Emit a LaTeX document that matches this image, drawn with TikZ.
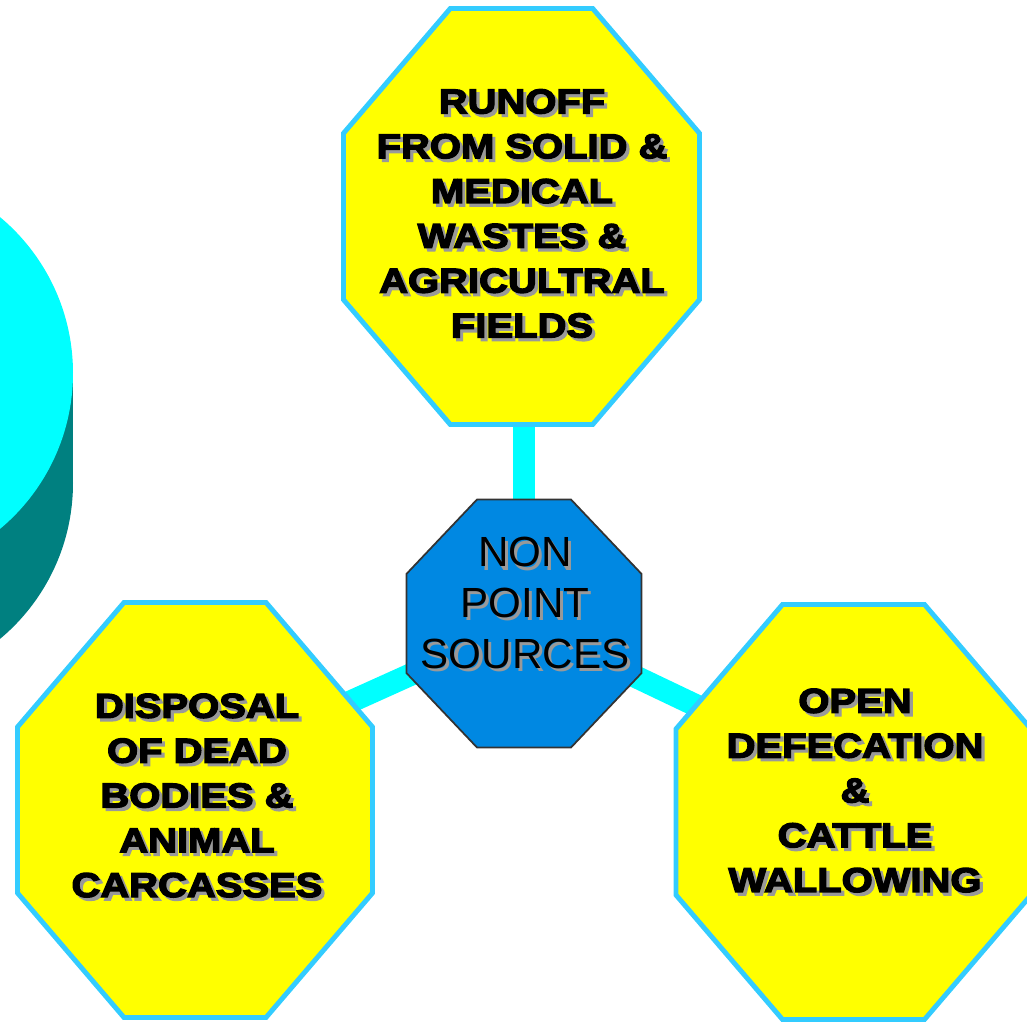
\documentclass[tikz,border=0pt]{standalone}
\usepackage{fontspec}
\setmainfont{Liberation Sans}
\newfontfamily\boxfont{Liberation Sans Bold}[FakeStretch=1.16, FakeBold=4]

\definecolor{boxyellow}{RGB}{255,255,0}
\definecolor{boxedge}{RGB}{51,204,255}
\definecolor{linkcyan}{RGB}{0,255,255}
\definecolor{hubblue}{RGB}{0,136,226}
\definecolor{drumcyan}{RGB}{0,255,255}
\definecolor{drumteal}{RGB}{0,128,128}

% unit octagon, scaled to the box size where it is used
\newcommand{\octpath}{(-0.4,1) -- (0.4,1) -- (1,0.4) -- (1,-0.4) -- (0.4,-1) -- (-0.4,-1) -- (-1,-0.4) -- (-1,0.4) -- cycle}

% centred lines with a soft grey drop shadow
\newcommand{\shadowed}[1]{%
  \makebox[0pt][l]{\hspace{0.9pt}\raisebox{-0.9pt}{\color{black!40}\begin{tabular}{@{}c@{}}#1\end{tabular}}}%
  \begin{tabular}{@{}c@{}}#1\end{tabular}}

\tikzset{
  source/.style={draw=boxedge, fill=boxyellow, line width=1.4pt},
  hubbox/.style={draw=black!80, fill=hubblue, line width=0.5pt},
  link/.style={draw=linkcyan, line width=6.4pt},
  sourcetext/.style={font=\boxfont\fontsize{9.8}{12.75}\selectfont, inner sep=0pt},
  hubtext/.style={font=\fontsize{12}{14.4}\selectfont, inner sep=0pt}
}

\begin{document}
\begin{tikzpicture}
	\clip (0,0) rectangle (10.27,-10.22);

	% drum cut by the left edge
	\fill[drumteal] (-1.30,-4.83) circle (2.03);
	\fill[drumteal] (-3.33,-3.73) rectangle (0.73,-4.83);
	\fill[drumcyan] (-1.30,-3.73) circle (2.03);

	\coordinate (hub) at (5.24,-6.235);
	\coordinate (runoff) at (5.215,-2.165);
	\coordinate (disposal) at (1.95,-8.10);
	\coordinate (defecation) at (8.535,-8.12);
	\coordinate (disposal-in) at (2.9,-7.29);
	\coordinate (defecation-in) at (7.6,-7.36);

	% links first, the boxes cover their ends
	\draw[link] (hub) -- (hub |- runoff);
	\draw[link] (hub) -- (disposal-in);
	\draw[link] (hub) -- (defecation-in);

	\draw[source, shift={(runoff)}, xscale=1.78, yscale=2.08] \octpath;
	\draw[source, shift={(disposal)}, xscale=1.775, yscale=2.075] \octpath;
	\draw[source, shift={(defecation)}, xscale=1.775, yscale=2.075] \octpath;
	\draw[hubbox, shift={(hub)}, xscale=1.175, yscale=1.24] \octpath;

	\node[sourcetext] (runoff-text) at (5.22,-2.18) {\shadowed{RUNOFF\\FROM SOLID \&\\MEDICAL\\WASTES \&\\AGRICULTRAL\\FIELDS}};
	\node[sourcetext] (disposal-text) at (1.97,-8.0) {\shadowed{DISPOSAL\\OF DEAD\\BODIES \&\\ANIMAL\\CARCASSES}};
	\node[sourcetext] (defecation-text) at (8.55,-7.95) {\shadowed{OPEN\\DEFECATION\\\&\\CATTLE\\WALLOWING}};
	\node[hubtext] (hub-text) at (5.25,-6.09) {\shadowed{NON\\POINT\\SOURCES}};
\end{tikzpicture}
\end{document}
